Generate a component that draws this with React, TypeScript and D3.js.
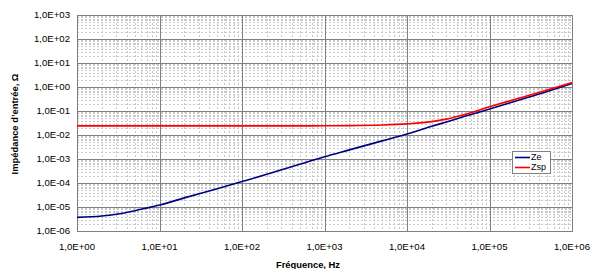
import React, { useRef, useEffect } from "react";
import * as d3 from "d3";

// frequencies (Hz)
const freqs = [1, 2, 3, 5, 10, 20, 50, 100, 200, 500, 1e3, 2e3, 5e3, 1e4, 2e4, 3e4, 5e4, 1e5, 2e5, 5e5, 1e6];

// Ze (ohm)
const zeValues = [
  3.7e-6, 4.2e-6, 5.0e-6, 7.0e-6, 1.2e-5, 2.4e-5, 5.8e-5, 1.15e-4, 2.3e-4, 6.0e-4, 1.25e-3, 2.4e-3, 5.7e-3, 1.1e-2,
  2.3e-2, 3.5e-2, 6.0e-2, 1.2e-1, 2.5e-1, 6.5e-1, 1.4,
];

// Zsp (ohm)
const zspValues = [
  2.4e-2, 2.4e-2, 2.4e-2, 2.4e-2, 2.4e-2, 2.4e-2, 2.4e-2, 2.4e-2, 2.4e-2, 2.4e-2, 2.42e-2, 2.45e-2, 2.6e-2, 2.9e-2,
  3.6e-2, 4.6e-2, 7.2e-2, 1.5e-1, 3.0e-1, 7.5e-1, 1.55,
];

const xTicks = [1, 10, 100, 1e3, 1e4, 1e5, 1e6];
const yTicks = [1e-6, 1e-5, 1e-4, 1e-3, 1e-2, 1e-1, 1, 10, 100, 1000];

const seriesNames = ["Ze", "Zsp"];
const seriesColors = ["#000080", "#ff0000"];

const fmt = (v) => {
  const e = Math.round(Math.log10(v));
  const sign = e < 0 ? "-" : "+";
  return `1,0E${sign}${String(Math.abs(e)).padStart(2, "0")}`;
};

const Chart = ({ width, height }) => {
  const svgRef = useRef(null);

  useEffect(() => {
    const svg = d3.select(svgRef.current);
    svg.selectAll("*").remove();

    const left = 77;
    const right = 572;
    const top = 15;
    const bottom = 231;

    const xScale = d3.scaleLog().domain([1, 1e6]).range([left, right]);
    const yScale = d3.scaleLog().domain([1e-6, 1e3]).range([bottom, top]);

    svg.append("rect").attr("width", width).attr("height", height).attr("fill", "white");

    // minor grid
    const minorX = [];
    for (let d = 1; d < 1e6; d *= 10) for (let k = 2; k <= 9; k++) minorX.push(d * k);
    const minorY = [];
    for (let d = 1e-6; d < 1e3; d *= 10) for (let k = 2; k <= 9; k++) minorY.push(d * k);

    const g = svg.append("g").attr("shape-rendering", "crispEdges");

    g.selectAll(".mx")
      .data(minorX)
      .enter()
      .append("line")
      .attr("x1", (d) => Math.round(xScale(d)) + 0.5)
      .attr("x2", (d) => Math.round(xScale(d)) + 0.5)
      .attr("y1", top)
      .attr("y2", bottom)
      .attr("stroke", "#c8c8c8")
      .attr("stroke-dasharray", "2,2");

    g.selectAll(".my")
      .data(minorY)
      .enter()
      .append("line")
      .attr("y1", (d) => Math.round(yScale(d)) + 0.5)
      .attr("y2", (d) => Math.round(yScale(d)) + 0.5)
      .attr("x1", left)
      .attr("x2", right)
      .attr("stroke", "#c8c8c8")
      .attr("stroke-dasharray", "2,2");

    // major grid
    g.selectAll(".Mx")
      .data(xTicks)
      .enter()
      .append("line")
      .attr("x1", (d) => Math.round(xScale(d)) + 0.5)
      .attr("x2", (d) => Math.round(xScale(d)) + 0.5)
      .attr("y1", top)
      .attr("y2", bottom)
      .attr("stroke", "#808080");

    g.selectAll(".My")
      .data(yTicks)
      .enter()
      .append("line")
      .attr("y1", (d) => Math.round(yScale(d)) + 0.5)
      .attr("y2", (d) => Math.round(yScale(d)) + 0.5)
      .attr("x1", left)
      .attr("x2", right)
      .attr("stroke", "#808080");

    g.append("rect")
      .attr("x", left + 0.5)
      .attr("y", top + 0.5)
      .attr("width", right - left)
      .attr("height", bottom - top)
      .attr("fill", "none")
      .attr("stroke", "#808080");

    // tick labels
    svg
      .append("g")
      .selectAll("text")
      .data(yTicks)
      .enter()
      .append("text")
      .attr("x", left - 7)
      .attr("y", (d) => yScale(d))
      .attr("dy", "0.35em")
      .attr("text-anchor", "end")
      .style("font-family", "Liberation Sans, Arial, sans-serif")
      .style("font-size", "9.6px")
      .text(fmt);

    svg
      .append("g")
      .selectAll("text")
      .data(xTicks)
      .enter()
      .append("text")
      .attr("x", (d) => xScale(d))
      .attr("y", 250)
      .attr("text-anchor", "middle")
      .style("font-family", "Liberation Sans, Arial, sans-serif")
      .style("font-size", "9.6px")
      .text(fmt);

    // series
    const line = d3
      .line()
      .x((d) => xScale(d[0]))
      .y((d) => yScale(d[1]))
      .curve(d3.curveMonotoneX);

    [zeValues, zspValues].forEach((vals, i) => {
      svg
        .append("path")
        .datum(freqs.map((f, j) => [f, vals[j]]))
        .attr("fill", "none")
        .attr("stroke", seriesColors[i])
        .attr("stroke-width", 1.6)
        .attr("d", line);
    });

    // legend
    const legend = svg.append("g").attr("transform", "translate(512,151)");
    legend
      .append("rect")
      .attr("x", 0.5)
      .attr("y", 0.5)
      .attr("width", 38)
      .attr("height", 22)
      .attr("fill", "white")
      .attr("stroke", "#808080");
    seriesNames.forEach((name, i) => {
      legend
        .append("line")
        .attr("x1", 3)
        .attr("x2", 18)
        .attr("y1", 6.5 + i * 10)
        .attr("y2", 6.5 + i * 10)
        .attr("stroke", seriesColors[i])
        .attr("stroke-width", 1.6);
      legend
        .append("text")
        .attr("x", 19)
        .attr("y", 6.5 + i * 10)
        .attr("dy", "0.33em")
        .style("font-family", "Liberation Sans, Arial, sans-serif")
        .style("font-size", "9px")
        .text(name);
    });

    // axis titles
    svg
      .append("text")
      .attr("x", 308)
      .attr("y", 268)
      .attr("text-anchor", "middle")
      .style("font-family", "Liberation Sans, Arial, sans-serif")
      .style("font-size", "9.4px")
      .style("font-weight", "bold")
      .text("Fréquence, Hz");

    svg
      .append("text")
      .attr("transform", "translate(18,124) rotate(-90)")
      .attr("text-anchor", "middle")
      .style("font-family", "Liberation Sans, Arial, sans-serif")
      .style("font-size", "9.4px")
      .style("font-weight", "bold")
      .text("Impédance d\u2019entrée, \u03a9");
  }, [width, height]);

  return <svg ref={svgRef} width={width} height={height} style={{ position: "absolute", left: 0, top: 0 }} />;
};

export default function App() {
  return <Chart width={601} height={269} />;
}
